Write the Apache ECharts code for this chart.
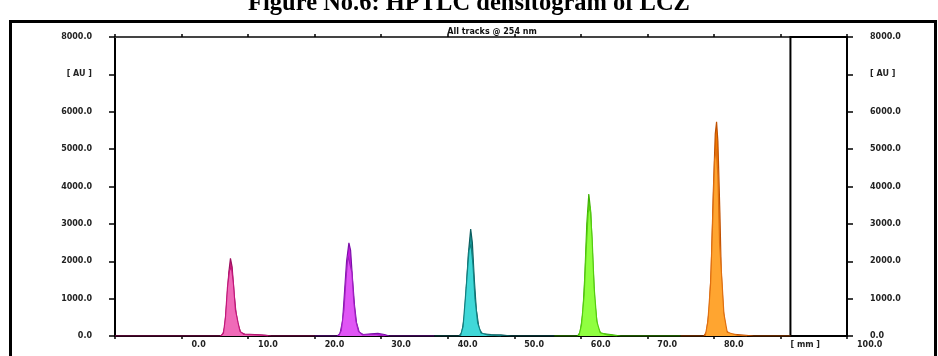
<!DOCTYPE html>
<html>
<head>
<meta charset="utf-8">
<script src="https://cdn.jsdelivr.net/npm/echarts@6/dist/echarts.min.js"></script>
<style>
html,body{margin:0;padding:0;background:#fff;}
#chart{width:938px;height:356px;}
</style>
</head>
<body>
<div id="chart"></div>
<script>
// tick labels
var yLabels = ['0.0', '1000.0', '2000.0', '3000.0', '4000.0', '5000.0', '6000.0', '[ AU ]', '8000.0'];
var xLabels = ['', '0.0', '10.0', '20.0', '30.0', '40.0', '50.0', '60.0', '70.0', '80.0', '[ mm ]', '100.0'];

// tracks, [position mm, AU]
var peak1a = [[-10,0],[5.8,0],[6.2,40],[6.5,250],[6.8,900],[7.1,1700],[7.35,2080],[7.6,1850],[7.9,1100],[8.2,600],[8.5,300],[8.9,90],[9.5,50],[11,40],[12.5,25],[13.5,0],[20,0]];
var peak1b = [[5.9,0],[6.3,80],[6.6,500],[6.9,1300],[7.2,1750],[7.5,1850],[7.8,1400],[8.1,700],[8.5,350],[8.8,120],[9.4,40],[12,20],[13,0]];
var peak2a = [[20,0],[23.4,0],[23.8,60],[24.2,400],[24.5,1200],[24.8,2000],[25.15,2490],[25.4,2300],[25.7,1500],[26,800],[26.3,350],[26.7,100],[27.3,40],[28.5,60],[29.5,70],[30.5,40],[31.2,0],[38,0]];
var peak2b = [[23.6,0],[24,150],[24.4,700],[24.7,1500],[25,2150],[25.3,2200],[25.6,1700],[25.9,900],[26.2,400],[26.6,120],[27.2,30],[29,40],[30.5,0]];
var peak3a = [[38,0],[41.7,0],[42.1,80],[42.5,500],[42.8,1300],[43.1,2200],[43.45,2860],[43.7,2500],[44,1500],[44.3,700],[44.7,200],[45.2,60],[46.5,40],[48,30],[49.5,0],[56,0]];
var peak3b = [[41.9,0],[42.3,250],[42.6,900],[42.9,1600],[43.2,2300],[43.5,2450],[43.8,1900],[44.1,1000],[44.5,350],[45,80],[46,30],[48,0]];
var peak4a = [[56,0],[59.5,0],[59.9,100],[60.3,600],[60.6,1600],[60.9,3000],[61.2,3800],[61.5,3300],[61.8,2000],[62.1,900],[62.5,250],[63,70],[64.5,40],[66,0],[75,0]];
var peak4b = [[59.7,0],[60.1,300],[60.5,1100],[60.8,2300],[61.1,3300],[61.4,3450],[61.7,2600],[62,1300],[62.4,400],[62.9,90],[64,30],[65.5,0]];
var peak5a = [[75,0],[78.5,0],[78.9,120],[79.3,700],[79.6,1800],[79.9,3800],[80.2,5400],[80.4,5730],[80.6,5200],[80.9,3300],[81.1,1700],[81.4,700],[81.8,150],[82.5,50],[84,30],[86,0],[91.5,0]];
var peak5b = [[78.7,0],[79.1,400],[79.5,1400],[79.8,3000],[80.1,4700],[80.35,5000],[80.6,4300],[80.85,2500],[81.2,1500],[81.5,600],[82,100],[83.5,20],[85,0]];

var tracks = [
    {data: peak1a, line: '#9c0f5f', fill: '#d2207e'},
    {data: peak1b, line: '#c2187a', fill: '#f06ab8'},
    {data: peak2a, line: '#7a10a8', fill: '#c81ee0'},
    {data: peak2b, line: '#a020c0', fill: '#e055f5'},
    {data: peak3a, line: '#0c5e60', fill: '#1a9a9a'},
    {data: peak3b, line: '#128080', fill: '#40d8d8'},
    {data: peak4a, line: '#3cb000', fill: '#66e010'},
    {data: peak4b, line: '#55cc10', fill: '#90ff40'},
    {data: peak5a, line: '#c05000', fill: '#f07800'},
    {data: peak5b, line: '#e07010', fill: '#ffa530'}
];

var series = [];
for (var i = 0; i < tracks.length; i++) {
    series.push({
        type: 'line',
        data: tracks[i].data,
        showSymbol: false,
        silent: true,
        z: 2 + i,
        lineStyle: {color: tracks[i].line, width: 1.2},
        areaStyle: {color: tracks[i].fill, opacity: 1}
    });
}
// spectrum box on the right
series.push({
    type: 'line',
    data: [],
    markArea: {
        silent: true,
        itemStyle: {color: '#fff', borderColor: '#000', borderWidth: 2},
        data: [[{xAxis: 91.5}, {xAxis: 100}]]
    }
});

var labelFont = {fontFamily: 'DejaVu Sans', fontWeight: 'bold', fontSize: 8, color: '#222'};

var option = {
    animation: false,
    backgroundColor: '#fff',
    title: [{
        text: 'Figure No.6: HPTLC densitogram of LCZ',
        left: 'center',
        top: -14,
        textStyle: {fontFamily: 'Liberation Serif', fontWeight: 'bold', fontSize: 24.5, color: '#000'}
    }, {
        text: 'All tracks @ 254 nm',
        left: 487,
        textAlign: 'center',
        top: 23,
        textStyle: {fontFamily: 'DejaVu Sans', fontWeight: 'bold', fontSize: 8, color: '#111'}
    }],
    graphic: [{
        type: 'rect',
        shape: {x: 10.5, y: 21.5, width: 925, height: 345},
        style: {fill: 'none', stroke: '#000', lineWidth: 3},
        silent: true
    }],
    grid: {left: 115, right: 91, top: 37, bottom: 20},
    xAxis: [{
        type: 'value',
        min: -10, max: 100, interval: 10,
        axisLine: {onZero: false, lineStyle: {color: '#000', width: 2}},
        axisTick: {length: 3, lineStyle: {color: '#000', width: 1.5}},
        splitLine: {show: false},
        axisLabel: Object.assign({
            margin: 5, align: 'left', padding: [0, 0, 0, 10],
            formatter: function (v) { return xLabels[Math.round((v + 10) / 10)]; }
        }, labelFont)
    }, {
        type: 'value',
        position: 'top',
        min: -10, max: 100, interval: 10,
        axisLine: {onZero: false, lineStyle: {color: '#444', width: 2}},
        axisTick: {length: 3, lineStyle: {color: '#000', width: 1.5}},
        splitLine: {show: false},
        axisLabel: {show: false}
    }],
    yAxis: [{
        type: 'value',
        min: 0, max: 8000, interval: 1000,
        axisLine: {show: true, onZero: false, lineStyle: {color: '#000', width: 2}},
        axisTick: {show: true, length: 6, lineStyle: {color: '#000', width: 1.5}},
        splitLine: {show: false},
        axisLabel: Object.assign({
            margin: 23,
            formatter: function (v) { return yLabels[Math.round(v / 1000)]; }
        }, labelFont)
    }, {
        type: 'value',
        position: 'right',
        min: 0, max: 8000, interval: 1000,
        axisLine: {show: true, onZero: false, lineStyle: {color: '#000', width: 2}},
        axisTick: {show: true, length: 6, lineStyle: {color: '#000', width: 1.5}},
        splitLine: {show: false},
        axisLabel: Object.assign({
            margin: 23,
            formatter: function (v) { return yLabels[Math.round(v / 1000)]; }
        }, labelFont)
    }],
    series: series
};

var myChart = echarts.init(document.getElementById('chart'));
myChart.setOption(option);
</script>
</body>
</html>
